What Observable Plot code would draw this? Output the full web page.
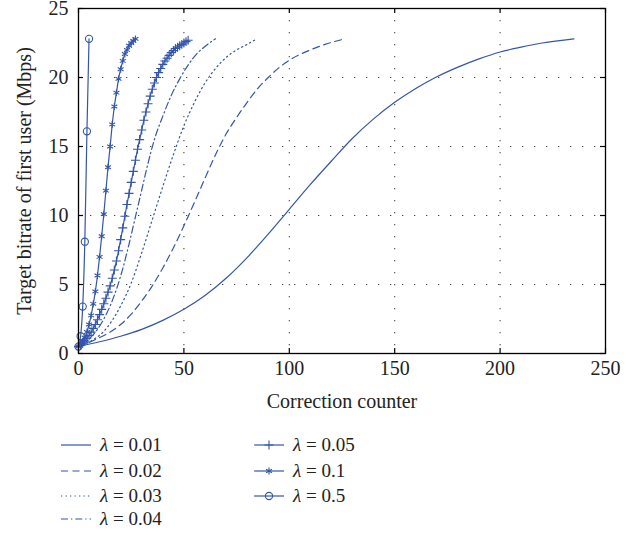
<!DOCTYPE html>
<html><head><meta charset="utf-8">
<script src="https://cdn.jsdelivr.net/npm/d3@7"></script>
<script src="https://cdn.jsdelivr.net/npm/@observablehq/plot@0.6"></script>
<style>
body{margin:0;background:#fff;font-family:"Liberation Serif","DejaVu Serif",serif;}
#wrap{position:relative;width:637px;height:535px;overflow:hidden;}
.item{position:absolute;display:flex;align-items:center;height:24px;font-size:19px;color:#222;white-space:nowrap;}
.item svg{margin-right:9px;display:block;}
</style></head><body><div id="wrap"><div id="chart"></div></div>
<script>
// ---- data ----
const lambdas = ["0.01","0.02","0.03","0.04","0.05","0.1","0.5"];
const xTicks = [0,50,100,150,200,250];
const yTicks = [0,5,10,15,20,25];

const x001 = [0,10,20,30,40,50,60,70,80,90,100,110,120,130,140,150,160,170,180,190,200,210,220,235];
const y001 = [0.5,0.85,1.25,1.75,2.4,3.2,4.2,5.45,6.95,8.65,10.45,12.25,13.95,15.6,17.0,18.2,19.2,20.05,20.75,21.35,21.85,22.2,22.5,22.8];

const x002 = [0,5,10,15,20,25,30,35,40,45,50,55,60,65,70,75,80,85,90,95,100,110,117,125];
const y002 = [0.5,0.8,1.15,1.55,2.1,2.85,3.8,4.9,6.2,7.65,9.25,10.95,12.7,14.4,15.9,17.1,18.2,19.2,20.0,20.7,21.25,22.0,22.4,22.75];

const x003 = [0,4,8,12,16,20,25,30,35,40,45,50,55,60,65,70,75,80,84];
const y003 = [0.5,0.75,1.1,1.6,2.4,3.45,5.1,7.3,9.7,12.1,14.4,16.5,18.2,19.6,20.65,21.45,22.0,22.4,22.75];

const x004 = [0,3,6,9,12,15,18,21,24,27,30,33,36,40,44,48,52,56,60,65];
const y004 = [0.5,0.8,1.2,1.75,2.5,3.45,4.65,6.15,7.95,9.9,11.85,13.8,15.5,17.2,18.7,19.9,20.9,21.7,22.25,22.8];

const x005 = d3.range(0,53);
const y005 = [0.5,0.62,0.75,0.9,1.1,1.3,1.55,1.82,2.1,2.45,2.82,3.2,3.6,4.0,4.45,4.9,5.45,6.05,6.7,7.45,
  8.25,9.1,9.95,10.8,11.6,12.4,13.2,14.0,14.8,15.5,16.2,16.9,17.5,18.1,18.65,19.15,19.6,20.0,20.35,20.65,
  20.95,21.2,21.4,21.6,21.8,21.95,22.1,22.2,22.3,22.4,22.5,22.6,22.7];

const x01 = d3.range(0,28);
const y01 = [0.5,0.68,0.88,1.15,1.56,2.1,2.76,3.6,4.5,5.65,7.0,8.5,10.1,11.8,13.5,15.0,16.6,17.9,18.9,19.9,
  20.6,21.2,21.7,22.0,22.3,22.5,22.65,22.8];

const x05 = [0,1,2,3,4,5];
const y05 = [0.5,1.25,3.4,8.1,16.1,22.8];

// ---- styles ----
const color = "#3355aa";
const series = [
  {lam:"0.01", x:x001, y:y001, dash:null,        symbol:null},
  {lam:"0.02", x:x002, y:y002, dash:"7,4.5",     symbol:null},
  {lam:"0.03", x:x003, y:y003, dash:"1.3,3.2",   symbol:null},
  {lam:"0.04", x:x004, y:y004, dash:"7,3,1.3,3", symbol:null},
  {lam:"0.05", x:x005, y:y005, dash:null,        symbol:"plus",     r:3},
  {lam:"0.1",  x:x01,  y:y01,  dash:null,        symbol:"asterisk", r:3.2},
  {lam:"0.5",  x:x05,  y:y05,  dash:null,        symbol:"circle",   r:3.6}
];
const rows = series.flatMap(s => s.x.map((x,i) => ({lam:s.lam, x, y:s.y[i]})));

const W = 637, H = 420, mL = 78, mR = 32, mT = 8, mB = 67;
const fw = W - mL - mR, fh = H - mT - mB, tl = 5;

const marks = [
  Plot.gridX(xTicks.slice(1,-1), {stroke:"#444", strokeOpacity:1, strokeWidth:1.1, strokeDasharray:"1.3,10.7"}),
  Plot.gridY(yTicks.slice(1,-1), {stroke:"#444", strokeOpacity:1, strokeWidth:1.1, strokeDasharray:"1.3,10.7"})
];
for (const s of series) {
  const d = rows.filter(r => r.lam === s.lam);
  marks.push(Plot.line(d, {x:"x", y:"y", stroke:color, strokeWidth:1.2, strokeDasharray:s.dash, curve:"monotone-x"}));
  if (s.symbol) marks.push(Plot.dot(d, {x:"x", y:"y", symbol:s.symbol, r:s.r, stroke:color, strokeWidth:1.1, fill:"none"}));
}
marks.push(
  Plot.frame({stroke:"#000", strokeWidth:1.3}),
  Plot.tickX(xTicks, {x:d=>d, stroke:"#000", strokeWidth:1.2, insetTop:fh-tl}),
  Plot.tickX(xTicks, {x:d=>d, stroke:"#000", strokeWidth:1.2, insetBottom:fh-tl}),
  Plot.tickY(yTicks, {y:d=>d, stroke:"#000", strokeWidth:1.2, insetRight:fw-tl}),
  Plot.tickY(yTicks, {y:d=>d, stroke:"#000", strokeWidth:1.2, insetLeft:fw-tl}),
  Plot.axisX(xTicks, {tickSize:0, tickPadding:7, label:"Correction counter", labelAnchor:"center", labelOffset:54, labelArrow:"none"}),
  Plot.axisY(yTicks, {tickSize:0, tickPadding:10, label:"Target bitrate of first user (Mbps)", labelAnchor:"center", labelOffset:62, labelArrow:"none"})
);

const chart = Plot.plot({
  width:W, height:H, marginLeft:mL, marginRight:mR, marginTop:mT, marginBottom:mB,
  style:{fontFamily:'"Liberation Serif", "DejaVu Serif", serif', fontSize:"20px", color:"#222", background:"#fff", overflow:"visible"},
  x:{domain:[0,250]}, y:{domain:[0,25]},
  marks
});
document.getElementById("chart").appendChild(chart);

// ---- legend ----
const symbolMap = {plus:d3.symbolPlus, asterisk:d3.symbolAsterisk, circle:d3.symbolCircle};
const legendPos = [[61,445],[61,471],[61,496],[61,519],[254,445],[254,471],[254,496]];
const wrap = document.getElementById("wrap");
series.forEach((s,i) => {
  const [lx,ly] = legendPos[i];
  const div = document.createElement("div");
  div.className = "item";
  div.style.left = lx + "px";
  div.style.top = (ly - 12) + "px";
  const svg = d3.create("svg").attr("width",30).attr("height",24);
  svg.append("line").attr("x1",0).attr("x2",30).attr("y1",12).attr("y2",12)
    .attr("stroke",color).attr("stroke-width",1.2).attr("stroke-dasharray", s.dash);
  if (s.symbol) svg.append("path").attr("transform","translate(15,12)")
    .attr("d", d3.symbol(symbolMap[s.symbol], Math.PI*s.r*s.r)())
    .attr("fill","none").attr("stroke",color).attr("stroke-width",1.1);
  div.appendChild(svg.node());
  const span = document.createElement("span");
  span.innerHTML = "<i>λ</i> = " + s.lam;
  div.appendChild(span);
  wrap.appendChild(div);
});
</script></body></html>
